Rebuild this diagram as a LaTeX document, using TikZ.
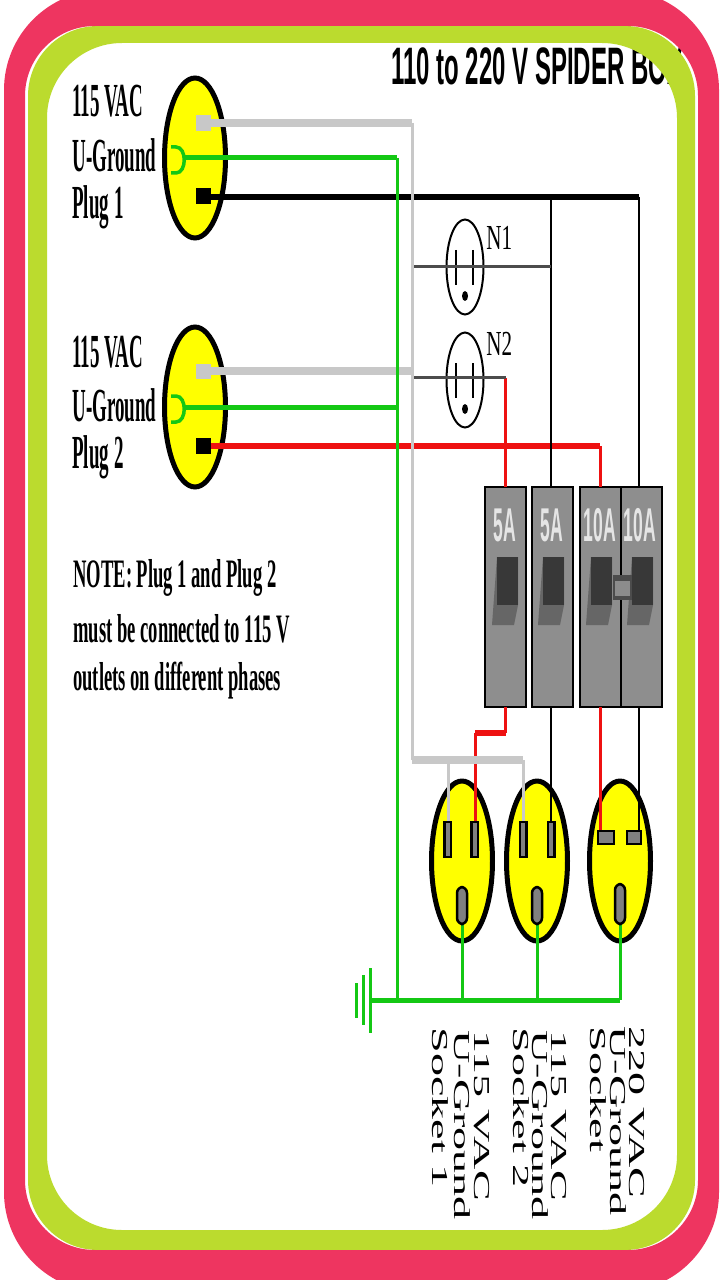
\documentclass[tikz,border=0pt]{standalone}
\usepackage{graphicx}
\usepackage{fontspec}
\setmainfont{Liberation Serif}
\newfontfamily\titlefont{Liberation Sans}
\usetikzlibrary{shapes.geometric}
\definecolor{bandpink}{HTML}{EE3560}
\definecolor{bandgreen}{HTML}{BBDB2E}
\definecolor{plugyellow}{HTML}{FFFF00}
\definecolor{wiregreen}{HTML}{14C814}
\definecolor{wiregray}{HTML}{C8C8C8}
\definecolor{wirered}{HTML}{EE1111}
\definecolor{breakergray}{HTML}{8E8E8E}
\tikzset{
	plug/.style={draw=black,fill=plugyellow,ellipse,line width=1mm,inner sep=0pt,minimum width=12.2mm,minimum height=32mm},
	outlet/.style={draw=black,ellipse,line width=0.4mm,inner sep=0pt,minimum width=7.4mm,minimum height=19mm},
	breaker/.style={draw=black,fill=breakergray,line width=0.4mm,inner sep=0pt,minimum width=8.2mm,minimum height=44mm},
	grayfat/.style={wiregray,line width=1.5mm},
	graythin/.style={wiregray,line width=0.6mm},
	greenfat/.style={wiregreen,line width=1mm},
	greenthin/.style={wiregreen,line width=0.6mm},
	blackfat/.style={black,line width=1.1mm},
	blackthin/.style={black,line width=0.5mm},
	redfat/.style={wirered,line width=1.1mm},
	redthin/.style={wirered,line width=0.6mm},
	slot/.style={draw=black,fill=gray,line width=0.5mm},
	boldlabel/.style={font=\fontsize{27}{27}\selectfont\bfseries,anchor=west,inner sep=0pt},
	notelabel/.style={font=\fontsize{23}{23}\selectfont\bfseries,anchor=west,inner sep=0pt},
	sidelabel/.style={font=\fontsize{13}{13}\selectfont,anchor=west,inner sep=0pt,rotate=-90},
	ratelabel/.style={font=\fontsize{27}{27}\selectfont\titlefont\bfseries,text=white!90!black,inner sep=0pt},
}
\newcommand{\squeezetext}[1]{\scalebox{0.40}[1]{#1}}
\newcommand{\notetext}[1]{\scalebox{0.46}[1]{#1}}
\newcommand{\widentext}[1]{\scalebox{2.02}[1]{#1}}
\newcommand{\ratetext}[1]{\scalebox{0.37}[1]{#1}}
\def\handle(#1)% Syntax: (left edge of the toggle)
	{ \fill[black!60] (#1,557) -- (#1+21,557) -- (#1+21,605) -- (#1+17,625) -- (#1-5,625) -- cycle;
	\fill[black!78] (#1,557) rectangle (#1+21,605); }
\begin{document}
\begin{tikzpicture}[x=0.02cm,y=-0.02cm]
	\useasboundingbox (0,0) rectangle (720,1280);
	\fill[white] (0,0) rectangle (720,1280);
	\node[font=\fontsize{30}{30}\selectfont\titlefont\bfseries,anchor=west,inner sep=0pt] (title) at (391,66) {\scalebox{0.455}[1]{110 to 220 V SPIDER BOX}};
	\fill[bandgreen,even odd rule,rounded corners=14mm] (28,26) rectangle (695,1250) [rounded corners=15mm] (47,43) rectangle (677,1230);
	\fill[bandpink,even odd rule,rounded corners=20mm] (4,-10) rectangle (719,1292) [rounded corners=14mm] (25,26) rectangle (698,1250);
	% plugs and the labels beside them
	\node[plug] (plug1) at (195,158) {};
	\node[plug] (plug2) at (195,407) {};
	\node[boldlabel] (p1a) at (72,101) {\squeezetext{115 VAC}};
	\node[boldlabel] (p1b) at (72,155) {\squeezetext{U-Ground}};
	\node[boldlabel] (p1c) at (72,207) {\squeezetext{Plug 1}};
	\node[boldlabel] (p2a) at (72,352) {\squeezetext{115 VAC}};
	\node[boldlabel] (p2b) at (72,405) {\squeezetext{U-Ground}};
	\node[boldlabel] (p2c) at (72,457) {\squeezetext{Plug 2}};
	\node[notelabel] (note1) at (73,578) {\notetext{NOTE: Plug 1 and Plug 2}};
	\node[notelabel] (note2) at (73,629) {\notetext{must be connected to 115 V}};
	\node[notelabel] (note3) at (73,681) {\notetext{outlets on different phases}};
	% sockets
	\node[plug] (sock1) at (462,861) {};
	\node[plug] (sock2) at (537,861) {};
	\node[plug] (sock3) at (620,861) {};
	% breakers
	\node[breaker] (brk1) at (505,597) {};
	\node[breaker] (brk2) at (552,597) {};
	\node[breaker] (brk3) at (600,597) {};
	\node[breaker] (brk4) at (641,597) {};
	\node[ratelabel] (rate1) at (505,525) {\ratetext{5A}};
	\node[ratelabel] (rate2) at (552,525) {\ratetext{5A}};
	\node[ratelabel] (rate3) at (600,525) {\ratetext{10A}};
	\node[ratelabel] (rate4) at (640,525) {\ratetext{10A}};
	\handle(497)
	\handle(543)
	\handle(591)
	\handle(632)
	\fill[black!70] (613,575) rectangle (632,600);
	\fill[black!45] (615,581) rectangle (630,596);
	% outlets
	\node[outlet] (n1) at (465,267) {};
	\node[outlet] (n2) at (465,380) {};
	\node[anchor=south west,inner sep=0pt,font=\fontsize{20}{20}\selectfont] (n1name) at (486,250) {\scalebox{0.6}[1]{N1}};
	\node[anchor=south west,inner sep=0pt,font=\fontsize{20}{20}\selectfont] (n2name) at (486,356) {\scalebox{0.6}[1]{N2}};
	\draw[line width=0.3mm] (456,250) -- (456,285);
	\draw[line width=0.3mm] (473,250) -- (473,285);
	\fill (465,296) ellipse (3 and 5);
	\draw[line width=0.3mm] (456,363) -- (456,398);
	\draw[line width=0.3mm] (473,363) -- (473,398);
	\fill (465,409) ellipse (3 and 5);
	% corners and ends of the wires
	\coordinate (hot1) at (204,197);
	\coordinate (hot2) at (204,446);
	\coordinate (neu1) at (204,123);
	\coordinate (neu2) at (204,371);
	\coordinate (gnd1) at (184,158);
	\coordinate (gnd2) at (184,407);
	\coordinate (neubus) at (412,123);
	\coordinate (gndbus) at (397,158);
	\coordinate (gndend) at (397,1000);
	\coordinate (neuend) at (412,760);
	\coordinate (pinA) at (448,822);
	\coordinate (pinB) at (475,822);
	\coordinate (pinC) at (523,822);
	\coordinate (pinD) at (551,822);
	\coordinate (pinE) at (600,832);
	\coordinate (pinF) at (639,832);
	\coordinate (joinE) at (600,446);
	\coordinate (joinF) at (639,197);
	\coordinate (joinD) at (551,197);
	% red and black
	\draw[redfat] (hot2) -- (joinE);
	\draw[redthin] (joinE) -- (600,487);
	\draw[redthin] (600,707) -- (pinE);
	\draw[redthin] (505,378) -- (505,487);
	\draw[redthin] (505,707) -- (505,733);
	\draw[redfat] (505.5,733) -- (475,733);
	\draw[redthin] (475,733) -- (pinB);
	\draw[blackfat] (hot1) -- (joinF);
	\draw[blackthin] (joinF) -- (639,487);
	\draw[blackthin] (joinD) -- (551,487);
	\draw[blackthin] (551,707) -- (pinD);
	\draw[blackthin] (639,707) -- (pinF);
	% grey
	\draw[grayfat] (neu1) -- (neubus);
	\draw[grayfat] (neu2) -- (412,371);
	\draw[graythin] (neubus) -- (neuend);
	\draw[grayfat] (neuend) -- (523,760);
	\draw[graythin] (448,760) -- (pinA);
	\draw[graythin] (523,760) -- (pinC);
	\draw[line width=0.6mm,black!70] (414,267) -- (551,267);
	\draw[line width=0.6mm,black!70] (414,377) -- (506,377);
	% green
	\draw[greenfat] (gnd1) -- (gndbus);
	\draw[greenfat] (gnd2) -- (397,407);
	\draw[greenthin] (gndbus) -- (gndend);
	\draw[greenfat] (370,1000) -- (620,1000);
	\draw[greenthin] (462,924) -- (462,1000);
	\draw[greenthin] (537,924) -- (537,1000);
	\draw[greenthin] (620,924) -- (620,1000);
	\draw[greenthin] (370,968) -- (370,1033);
	\draw[greenthin] (363,975) -- (363,1025);
	\draw[greenthin] (356,983) -- (356,1018);
	\draw[greenfat,line width=0.7mm] (171,147) -- (176,147) .. controls (187,147) and (187,173) .. (176,173) -- (171,173);
	\draw[greenfat,line width=0.7mm] (171,396) -- (176,396) .. controls (187,396) and (187,422) .. (176,422) -- (171,422);
	% pins of the plugs and sockets
	\fill[wiregray] (196,115) rectangle (211,131);
	\fill[wiregray] (196,364) rectangle (211,379);
	\fill[black] (196,188) rectangle (211,204);
	\fill[black] (196,438) rectangle (211,454);
	\draw[slot] (444.5,822) rectangle (451,857);
	\draw[slot] (471.5,822) rectangle (478,857);
	\draw[slot] (520,822) rectangle (526.5,857);
	\draw[slot] (548,822) rectangle (554.5,857);
	\draw[slot] (598,831) rectangle (614,844);
	\draw[slot] (627,831) rectangle (641,844);
	\draw[slot,rounded corners=1.2mm] (457,924) -- (457,887) -- (467,887) -- (467,924) -- cycle;
	\draw[slot,rounded corners=1.2mm] (532,924) -- (532,887) -- (542,887) -- (542,924) -- cycle;
	\draw[slot,rounded corners=1.2mm] (615,924) -- (615,884) -- (625,884) -- (625,924) -- cycle;
	% socket names
	\node[sidelabel] (s1a) at (482,1030) {\widentext{115 VAC}};
	\node[sidelabel] (s1b) at (462,1030) {\widentext{U-Ground}};
	\node[sidelabel] (s1c) at (440,1027) {\widentext{Socket 1}};
	\node[sidelabel] (s2a) at (559,1030) {\widentext{115 VAC}};
	\node[sidelabel] (s2b) at (540,1030) {\widentext{U-Ground}};
	\node[sidelabel] (s2c) at (521,1027) {\widentext{Socket 2}};
	\node[sidelabel] (s3a) at (637,1026) {\widentext{220 VAC}};
	\node[sidelabel] (s3b) at (618,1026) {\widentext{U-Ground}};
	\node[sidelabel] (s3c) at (598,1026) {\widentext{Socket}};
\end{tikzpicture}
\end{document}
